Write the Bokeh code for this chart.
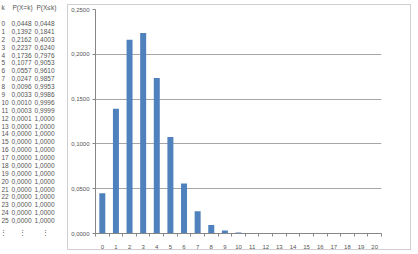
from bokeh.plotting import figure
from bokeh.models import Range1d, FixedTicker, ColumnDataSource
from bokeh.layouts import row, column
from bokeh.core.properties import value
from bokeh.embed import file_html
from bokeh.resources import INLINE

# ---- data ----
table_k = list(range(26))
table_p = [0.0448, 0.1392, 0.2162, 0.2237, 0.1736, 0.1077, 0.0557, 0.0247, 0.0096,
           0.0033, 0.0010, 0.0003, 0.0001] + [0.0] * 13
table_cum = [0.0448, 0.1841, 0.4003, 0.6240, 0.7976, 0.9053, 0.9610, 0.9857, 0.9953,
             0.9986, 0.9996, 0.9999] + [1.0] * 14
headers = ["k", "P(X=k)", "P(X\u2264k)"]
bar_k = list(range(21))
bar_p = table_p[:21]
y_ticks = [0.0, 0.05, 0.10, 0.15, 0.20, 0.25]
y_tick_labels = ["0,0000", "0,0500", "0,1000", "0,1500", "0,2000", "0,2500"]

FONT = "Liberation Sans"
TXT = "#555555"

def fmt(v):
    return ("%.4f" % v).replace(".", ",")

# ---- table figure ----
t = figure(width=67, height=254, output_backend="svg", toolbar_location=None,
           x_range=Range1d(0, 67), y_range=Range1d(29.3, -2.92),
           x_axis_location=None, y_axis_location=None, title=None,
           min_border=0, outline_line_color=None)
t.grid.visible = False
src = ColumnDataSource(dict(r=table_k, k=[str(k) for k in table_k],
                            p=[fmt(v) for v in table_p], c=[fmt(v) for v in table_cum]))
common = dict(text_font=value(FONT), text_font_size="6.5px", text_color=TXT,
              text_baseline="middle")
t.text(x=1, y="r", text="k", source=src, text_align="left", **common)
t.text(x=31, y="r", text="p", source=src, text_align="right", **common)
t.text(x=54, y="r", text="c", source=src, text_align="right", **common)
t.text(x=[1, 12, 36], y=[-2, -2, -2], text=headers, text_align="left", **common)
t.text(x=[3, 22, 45], y=[26.5, 26.5, 26.5], text=["\u22ee"] * 3, text_align="center", **common)

# ---- chart figure ----
p = figure(width=344, height=246, output_backend="svg", toolbar_location=None,
           x_range=Range1d(-0.5, 20.5), y_range=Range1d(0, 0.25),
           min_border_left=26, min_border_right=31, min_border_top=4, min_border_bottom=18,
           outline_line_color=None, margin=(4, 0, 0, 0),
           styles={"border": "1px solid #d0d0d0"})
p.vbar(x=bar_k, top=bar_p, width=0.44, fill_color="#4f81bd", line_color=None)

p.xgrid.visible = False
p.ygrid.ticker = FixedTicker(ticks=y_ticks)
p.ygrid.grid_line_color = "#a6a6a6"
p.ygrid.grid_line_width = 1

p.xaxis.ticker = FixedTicker(ticks=bar_k, minor_ticks=[k - 0.5 for k in bar_k] + [20.5])
p.xaxis.major_tick_line_color = None
p.xaxis.minor_tick_line_color = "#868686"
p.xaxis.minor_tick_out = 3
p.xaxis.minor_tick_in = 0
p.xaxis.axis_line_color = "#868686"
p.xaxis.major_label_standoff = 5

p.yaxis.ticker = FixedTicker(ticks=y_ticks)
p.yaxis.major_label_overrides = {t_: l for t_, l in zip(y_ticks, y_tick_labels)}
p.yaxis.minor_tick_line_color = None
p.yaxis.major_tick_line_color = "#868686"
p.yaxis.major_tick_out = 3
p.yaxis.major_tick_in = 0
p.yaxis.axis_line_color = "#868686"
p.yaxis.major_label_standoff = 3

for ax in (p.xaxis, p.yaxis):
    ax.major_label_text_font = FONT
    ax.major_label_text_font_size = "6px"
    ax.major_label_text_color = TXT

layout = row(column(t), column(p), spacing=0)
open("out.html", "w").write(file_html(layout, INLINE))
